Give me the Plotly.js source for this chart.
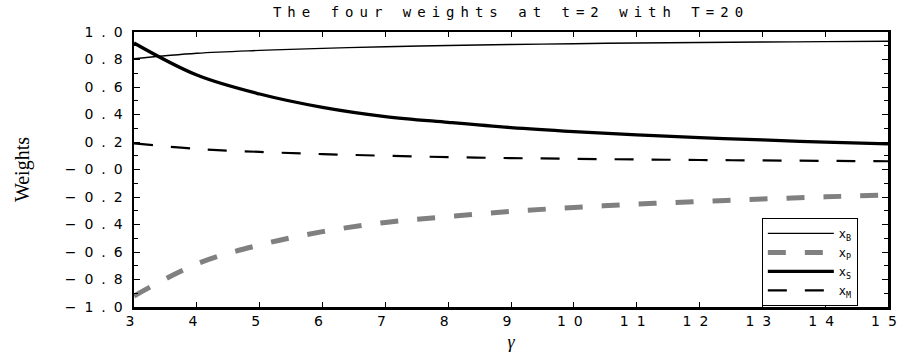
<!DOCTYPE html>
<html>
<head>
<meta charset="utf-8">
<script src="https://cdn.plot.ly/plotly-3.0.1.min.js"></script>
<style>
  html, body { margin: 0; padding: 0; background: #fff; }
  #chart { width: 907px; height: 358px; }
  /* wide, evenly spaced lettering for title and tick numbers */
  .gtitle { letter-spacing: 6px; }
  .xtick text, .ytick text { letter-spacing: 8px; }
</style>
</head>
<body>
<div id="chart"></div>
<script>
// risk-aversion parameter
const gamma = [3, 4, 5, 6, 7, 8, 9, 10, 11, 12, 13, 14, 15];

// portfolio weights at t = 2, horizon T = 20
const xB = [0.805, 0.845, 0.866, 0.881, 0.893, 0.902, 0.909, 0.915, 0.920, 0.924, 0.927, 0.930, 0.933];
const xP = [-0.920, -0.687, -0.549, -0.452, -0.385, -0.343, -0.305, -0.276, -0.252, -0.232, -0.215, -0.199, -0.186];
const xS = [0.920, 0.687, 0.549, 0.452, 0.385, 0.343, 0.305, 0.276, 0.252, 0.232, 0.215, 0.199, 0.186];
const xM = [0.190, 0.150, 0.128, 0.112, 0.100, 0.090, 0.083, 0.078, 0.073, 0.069, 0.066, 0.063, 0.060];

// y-axis tick positions and their printed labels
const yTickVals = [-1.0, -0.8, -0.6, -0.4, -0.2, 0.0, 0.2, 0.4, 0.6, 0.8, 1.0];
const yTickText = ['\u22121.0', '\u22120.8', '\u22120.6', '\u22120.4', '\u22120.2', '\u22120.0', '0.2', '0.4', '0.6', '0.8', '1.0'];
const xTickVals = gamma;

const mono = 'DejaVu Sans Mono';
const sans = 'DejaVu Sans';

const traces = [
  { x: gamma, y: xB, name: 'x<sub>B</sub>', mode: 'lines',
    line: { color: '#000000', width: 1.4, shape: 'spline' } },
  { x: gamma, y: xP, name: 'x<sub>P</sub>', mode: 'lines',
    line: { color: '#808080', width: 5, dash: '18px,19px', shape: 'spline' } },
  { x: gamma, y: xS, name: 'x<sub>S</sub>', mode: 'lines',
    line: { color: '#000000', width: 3.3, shape: 'spline' } },
  { x: gamma, y: xM, name: 'x<sub>M</sub>', mode: 'lines',
    line: { color: '#000000', width: 2.2, dash: '19px,18px', shape: 'spline' } }
];

const layout = {
  width: 907, height: 358,
  margin: { l: 134, r: 19, t: 32, b: 51 },
  paper_bgcolor: '#ffffff', plot_bgcolor: '#ffffff',
  showlegend: true,
  title: {
    text: 'The four weights at t=2 with T=20',
    font: { family: mono, size: 14, color: '#000' },
    x: 0.5, xref: 'paper', xanchor: 'center',
    y: 0.966, yref: 'container', yanchor: 'middle'
  },
  xaxis: {
    range: [3, 15], tickvals: xTickVals, ticktext: xTickVals.map(String),
    showgrid: false, zeroline: false,
    showline: true, linecolor: '#000', linewidth: 2.5, mirror: 'allticks',
    ticks: 'inside', ticklen: 5, tickwidth: 1, tickcolor: '#000',
    tickfont: { family: sans, size: 14, color: '#000' },
    ticklabelstandoff: 0,
    title: { text: '<i>γ</i>', font: { family: 'Liberation Serif', size: 18, color: '#000' }, standoff: 7 }
  },
  yaxis: {
    range: [-1, 1], tickvals: yTickVals, ticktext: yTickText,
    showgrid: false, zeroline: false,
    showline: true, linecolor: '#000', linewidth: 2.5, mirror: 'allticks',
    ticks: 'inside', ticklen: 6, tickwidth: 1, tickcolor: '#000',
    minor: { dtick: 0.1, tick0: 0, ticks: 'inside', ticklen: 4, tickwidth: 1, tickcolor: '#000' },
    tickfont: { family: sans, size: 14, color: '#000' },
    ticklabelstandoff: -2,
    title: { text: 'Weights', font: { family: 'Liberation Serif', size: 20, color: '#000' }, standoff: 30 }
  },
  legend: {
    x: 0.960, y: 0.324, xanchor: 'right', yanchor: 'top',
    bgcolor: '#ffffff', bordercolor: '#000', borderwidth: 1,
    font: { family: mono, size: 12, color: '#000' },
    itemwidth: 66, tracegroupgap: 0
  }
};

Plotly.newPlot('chart', traces, layout, { staticPlot: true, displayModeBar: false });
</script>
</body>
</html>
